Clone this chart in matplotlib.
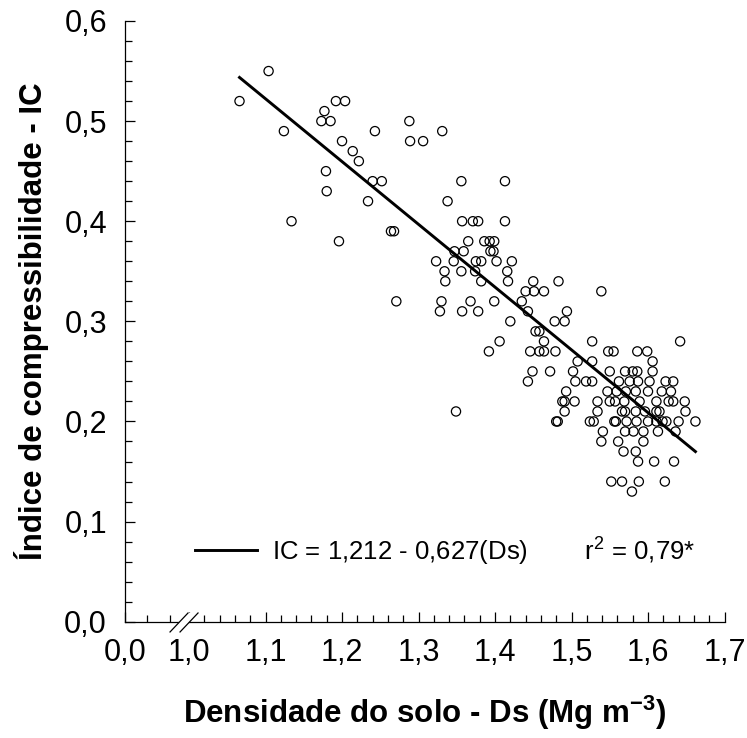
import matplotlib
matplotlib.use('Agg')
import matplotlib.pyplot as plt
import numpy as np
from matplotlib.patches import Polygon

plt.rcParams['font.family'] = 'Liberation Sans'
plt.rcParams['mathtext.fontset'] = 'custom'
plt.rcParams['mathtext.rm'] = 'Liberation Sans'
plt.rcParams['mathtext.bf'] = 'Liberation Sans:bold'

# IC levels and the Ds values of the points read at each level
ic_levels = [0.55, 0.52, 0.51, 0.50, 0.49, 0.48, 0.47, 0.46, 0.45, 0.44,
             0.43, 0.42, 0.40, 0.39, 0.38, 0.37, 0.36, 0.35, 0.34, 0.33,
             0.32, 0.31, 0.30, 0.29, 0.28, 0.27, 0.26, 0.25, 0.24, 0.23,
             0.22, 0.21, 0.20, 0.19, 0.18, 0.17, 0.16, 0.14, 0.13]
ds_by_level = [
    [1.104],
    [1.066, 1.192, 1.204],
    [1.177],
    [1.173, 1.185, 1.288],
    [1.124, 1.243, 1.331],
    [1.200, 1.289, 1.306],
    [1.214],
    [1.222],
    [1.179],
    [1.240, 1.252, 1.356, 1.413],
    [1.180],
    [1.234, 1.338],
    [1.134, 1.357, 1.371, 1.378, 1.413],
    [1.264, 1.268],
    [1.196, 1.365, 1.386, 1.393, 1.399],
    [1.347, 1.359, 1.394, 1.398],
    [1.323, 1.346, 1.375, 1.382, 1.402, 1.422],
    [1.334, 1.356, 1.374, 1.416],
    [1.335, 1.382, 1.417, 1.450, 1.483],
    [1.440, 1.451, 1.464, 1.539],
    [1.271, 1.330, 1.368, 1.399, 1.435],
    [1.328, 1.357, 1.378, 1.443, 1.494],
    [1.420, 1.478, 1.491],
    [1.453, 1.458],
    [1.406, 1.464, 1.527, 1.642],
    [1.392, 1.446, 1.458, 1.464, 1.479, 1.548, 1.555, 1.586, 1.599],
    [1.508, 1.527, 1.606],
    [1.449, 1.472, 1.502, 1.550, 1.570, 1.580, 1.586, 1.606],
    [1.443, 1.505, 1.519, 1.527, 1.562, 1.576, 1.587, 1.602, 1.623, 1.633],
    [1.493, 1.547, 1.559, 1.571, 1.584, 1.600, 1.618, 1.630],
    [1.488, 1.491, 1.504, 1.534, 1.550, 1.557, 1.569, 1.589, 1.611, 1.627,
     1.633, 1.648],
    [1.349, 1.491, 1.534, 1.566, 1.570, 1.584, 1.596, 1.611, 1.615, 1.649],
    [1.480, 1.482, 1.524, 1.529, 1.556, 1.558, 1.572, 1.585, 1.600, 1.611,
     1.619, 1.624, 1.640, 1.662],
    [1.541, 1.570, 1.581, 1.594, 1.613, 1.636],
    [1.539, 1.561, 1.594],
    [1.568, 1.584],
    [1.587, 1.608, 1.634],
    [1.552, 1.566, 1.588, 1.622],
    [1.579],
]

# regression IC = a + b*Ds
coef_a = 1.212
coef_b = -0.627
eq_label = 'IC = 1,212 - 0,627(Ds)' + ' ' * 8 + 'r$^2$ = 0,79*'

x_tick_vals = [1.0, 1.1, 1.2, 1.3, 1.4, 1.5, 1.6, 1.7]
x_tick_text = ['1,0', '1,1', '1,2', '1,3', '1,4', '1,5', '1,6', '1,7']
y_tick_vals = [0.0, 0.1, 0.2, 0.3, 0.4, 0.5, 0.6]
y_tick_text = ['0,0', '0,1', '0,2', '0,3', '0,4', '0,5', '0,6']

ds = np.concatenate([np.array(v) for v in ds_by_level])
ic = np.concatenate([[lv] * len(v) for lv, v in zip(ic_levels, ds_by_level)])

fig = plt.figure(figsize=(7.47, 7.38), dpi=100)
ax = fig.add_axes([125 / 747, 116.3 / 738, 599.5 / 747, 600.7 / 738])

x0 = 0.9163  # position of the "0,0" origin before the axis break
ax.set_xlim(x0, 1.7)
ax.set_ylim(0, 0.6)

ax.scatter(ds, ic, s=44, facecolors='none', edgecolors='black',
           linewidths=0.9, zorder=3)

xs = np.linspace(ds.min(), ds.max(), 50)
ax.plot(xs, coef_a + coef_b * xs, color='black', lw=2.1, zorder=4,
        label=eq_label)

ax.legend(loc='center left', bbox_to_anchor=(0.117, 0.119), frameon=False,
          fontsize=18.5, handlelength=2.4, handletextpad=0.6,
          borderpad=0, borderaxespad=0)

# ticks
ax.set_xticks([x0] + x_tick_vals)
ax.set_xticklabels(['0,0'] + x_tick_text)
minor_x = [x0 + 0.0294, x0 + 0.0588] + \
    [round(1.0 + 0.02 * i, 2) for i in range(1, 35) if i % 5 != 0]
ax.set_xticks(minor_x, minor=True)
ax.set_yticks(y_tick_vals)
ax.set_yticklabels(y_tick_text)
ax.set_yticks(np.arange(0, 0.601, 0.02), minor=True)

ax.tick_params(which='both', direction='in', labelsize=22, width=0.9,
               top=False, right=False)
ax.tick_params(which='major', length=7)
ax.tick_params(which='minor', length=5)
ax.tick_params(axis='y', pad=13)
ax.tick_params(axis='x', pad=12)

for s in ['top', 'right']:
    ax.spines[s].set_visible(False)
for s in ['left', 'bottom']:
    ax.spines[s].set_linewidth(0.9)

# axis break marks
s1 = [(0.0751, -0.0171), (0.1051, 0.0145)]
s2 = [(0.0918, -0.0171), (0.1218, 0.0145)]
gap = Polygon([s1[0], s1[1], s2[1], s2[0]], closed=True, facecolor='white',
              edgecolor='none', transform=ax.transAxes, clip_on=False,
              zorder=10)
ax.add_patch(gap)
for seg in (s1, s2):
    ax.plot([seg[0][0], seg[1][0]], [seg[0][1], seg[1][1]], color='black',
            lw=0.9, transform=ax.transAxes, clip_on=False, zorder=11)

ax.set_xlabel('Densidade do solo - Ds (Mg m$^{\\mathbf{-3}}$)',
              fontsize=22.5, fontweight='bold', labelpad=18)
ax.set_ylabel('Índice de compressibilidade - IC', fontsize=22.5,
              fontweight='bold', labelpad=11)

fig.savefig('out.png', dpi=100)
